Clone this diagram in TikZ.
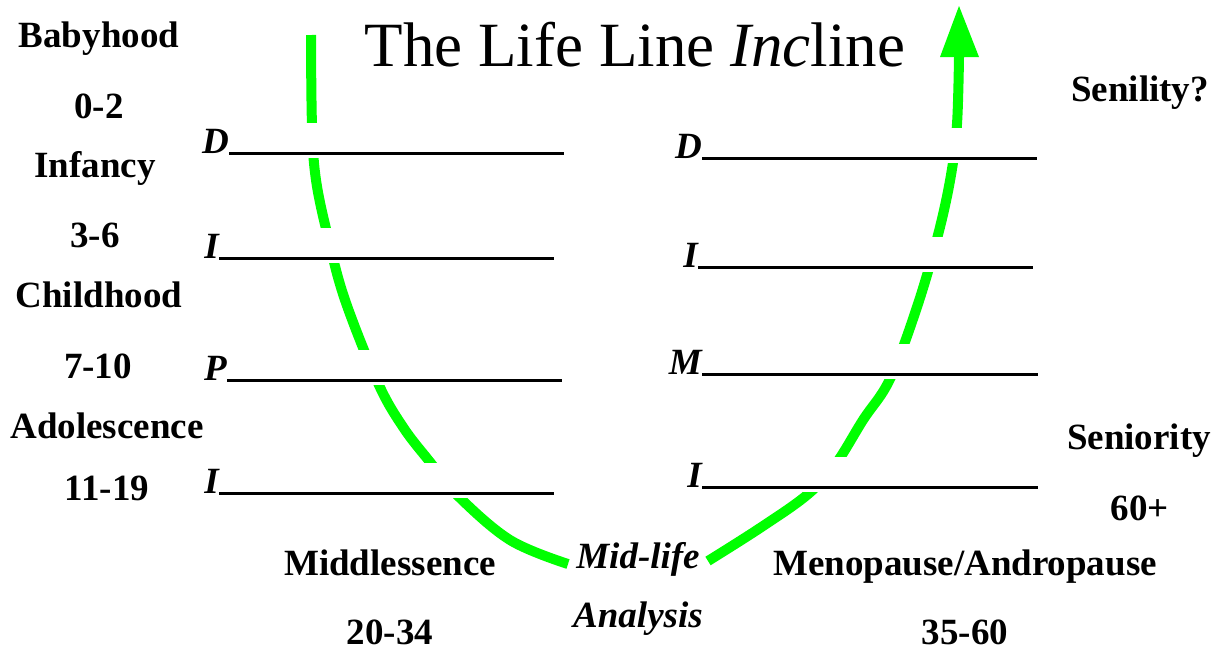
\documentclass[tikz,border=0pt]{standalone}
\usepackage{fontspec}
\setmainfont{Liberation Serif}
\definecolor{lifegreen}{RGB}{0,255,0}
\begin{document}
\begin{tikzpicture}[x=1pt,y=-1pt,
  lbl/.style={font=\fontsize{37}{40}\selectfont\bfseries, inner sep=0pt, anchor=base},
  ilbl/.style={font=\fontsize{37}{40}\selectfont\bfseries\itshape, inner sep=0pt, anchor=base},
  letter/.style={font=\fontsize{37}{40}\selectfont\bfseries\itshape, inner sep=0pt, anchor=base east},
  blank/.style={draw=black, line width=3pt},
  life/.style={draw=lifegreen, line width=10pt},
  mask/.style={fill=white, draw=none}
]
\useasboundingbox[fill=white] (0,0) rectangle (1229,651);

% life line curves
\draw[life] plot[smooth, tension=0.6] coordinates {(311,35) (312,125) (316,180) (328,237) (345,300) (378,383) (403,427) (430,462) (457,495) (510,540) (568,564)};
\draw[life] plot[smooth, tension=0.6] coordinates {(708,561) (760,528) (807,495) (835,465) (863,420) (890,379) (917,307) (938,235) (951,175) (957,124) (959,57)};
\fill[lifegreen] (940,57) -- (979,57) -- (959,6) -- cycle;

% masks (white text boxes of the blanks)
\foreach \xa/\xb/\yy in {198/566/153, 198/556/258, 198/564/380, 198/556/493, 665/1040/158, 665/1036/267, 665/1040/374, 665/1040/487}
  \fill[mask] (\xa,\yy-30) rectangle (\xb,\yy+5);

% blanks, left
\coordinate (l1s) at (229,153); \coordinate (l1e) at (564,153);
\coordinate (l2s) at (219,258); \coordinate (l2e) at (554,258);
\coordinate (l3s) at (227,380); \coordinate (l3e) at (562,380);
\coordinate (l4s) at (219,493); \coordinate (l4e) at (554,493);
% blanks, right
\coordinate (r1s) at (702,158); \coordinate (r1e) at (1037,158);
\coordinate (r2s) at (698,267); \coordinate (r2e) at (1033,267);
\coordinate (r3s) at (702,374); \coordinate (r3e) at (1038,374);
\coordinate (r4s) at (702,487); \coordinate (r4e) at (1038,487);
\foreach \n in {l1,l2,l3,l4,r1,r2,r3,r4} \draw[blank] (\n s) -- (\n e);

\node[letter] (ld) at (l1s) {D};
\node[letter] (li) at (l2s) {I};
\node[letter] (lp) at (l3s) {P};
\node[letter] (lj) at (l4s) {I};
\node[letter] (rd) at (r1s) {D};
\node[letter] (ri) at (r2s) {I};
\node[letter] (rm) at (r3s) {M};
\node[letter] (rj) at (r4s) {I};

% title
\node[font=\fontsize{63}{70}\selectfont, inner sep=0pt, anchor=base] (title) at (635,66) {The Life Line \textit{Inc}line};

% left labels
\node[lbl] (baby) at (99,47) {Babyhood};
\node[lbl] (a02) at (99,118) {0-2};
\node[lbl] (inf) at (95,177) {Infancy};
\node[lbl] (a36) at (95,247) {3-6};
\node[lbl] (child) at (99,307) {Childhood};
\node[lbl] (a710) at (98,378) {7-10};
\node[lbl] (adol) at (107,438) {Adolescence};
\node[lbl] (a1119) at (107,500) {11-19};
% right labels
\node[lbl] (senil) at (1140,101) {Senility?};
\node[lbl] (senio) at (1139,449) {Seniority};
\node[lbl] (a60) at (1140,520) {60+};
% bottom labels
\node[lbl] (midd) at (390,575) {Middlessence};
\node[lbl] (a2034) at (390,644) {20-34};
\node[ilbl] (mid) at (638,568) {Mid-life};
\node[ilbl] (ana) at (638,627) {Analysis};
\node[lbl] (meno) at (965,575) {Menopause/Andropause};
\node[lbl] (a3560) at (965,644) {35-60};
\end{tikzpicture}
\end{document}
